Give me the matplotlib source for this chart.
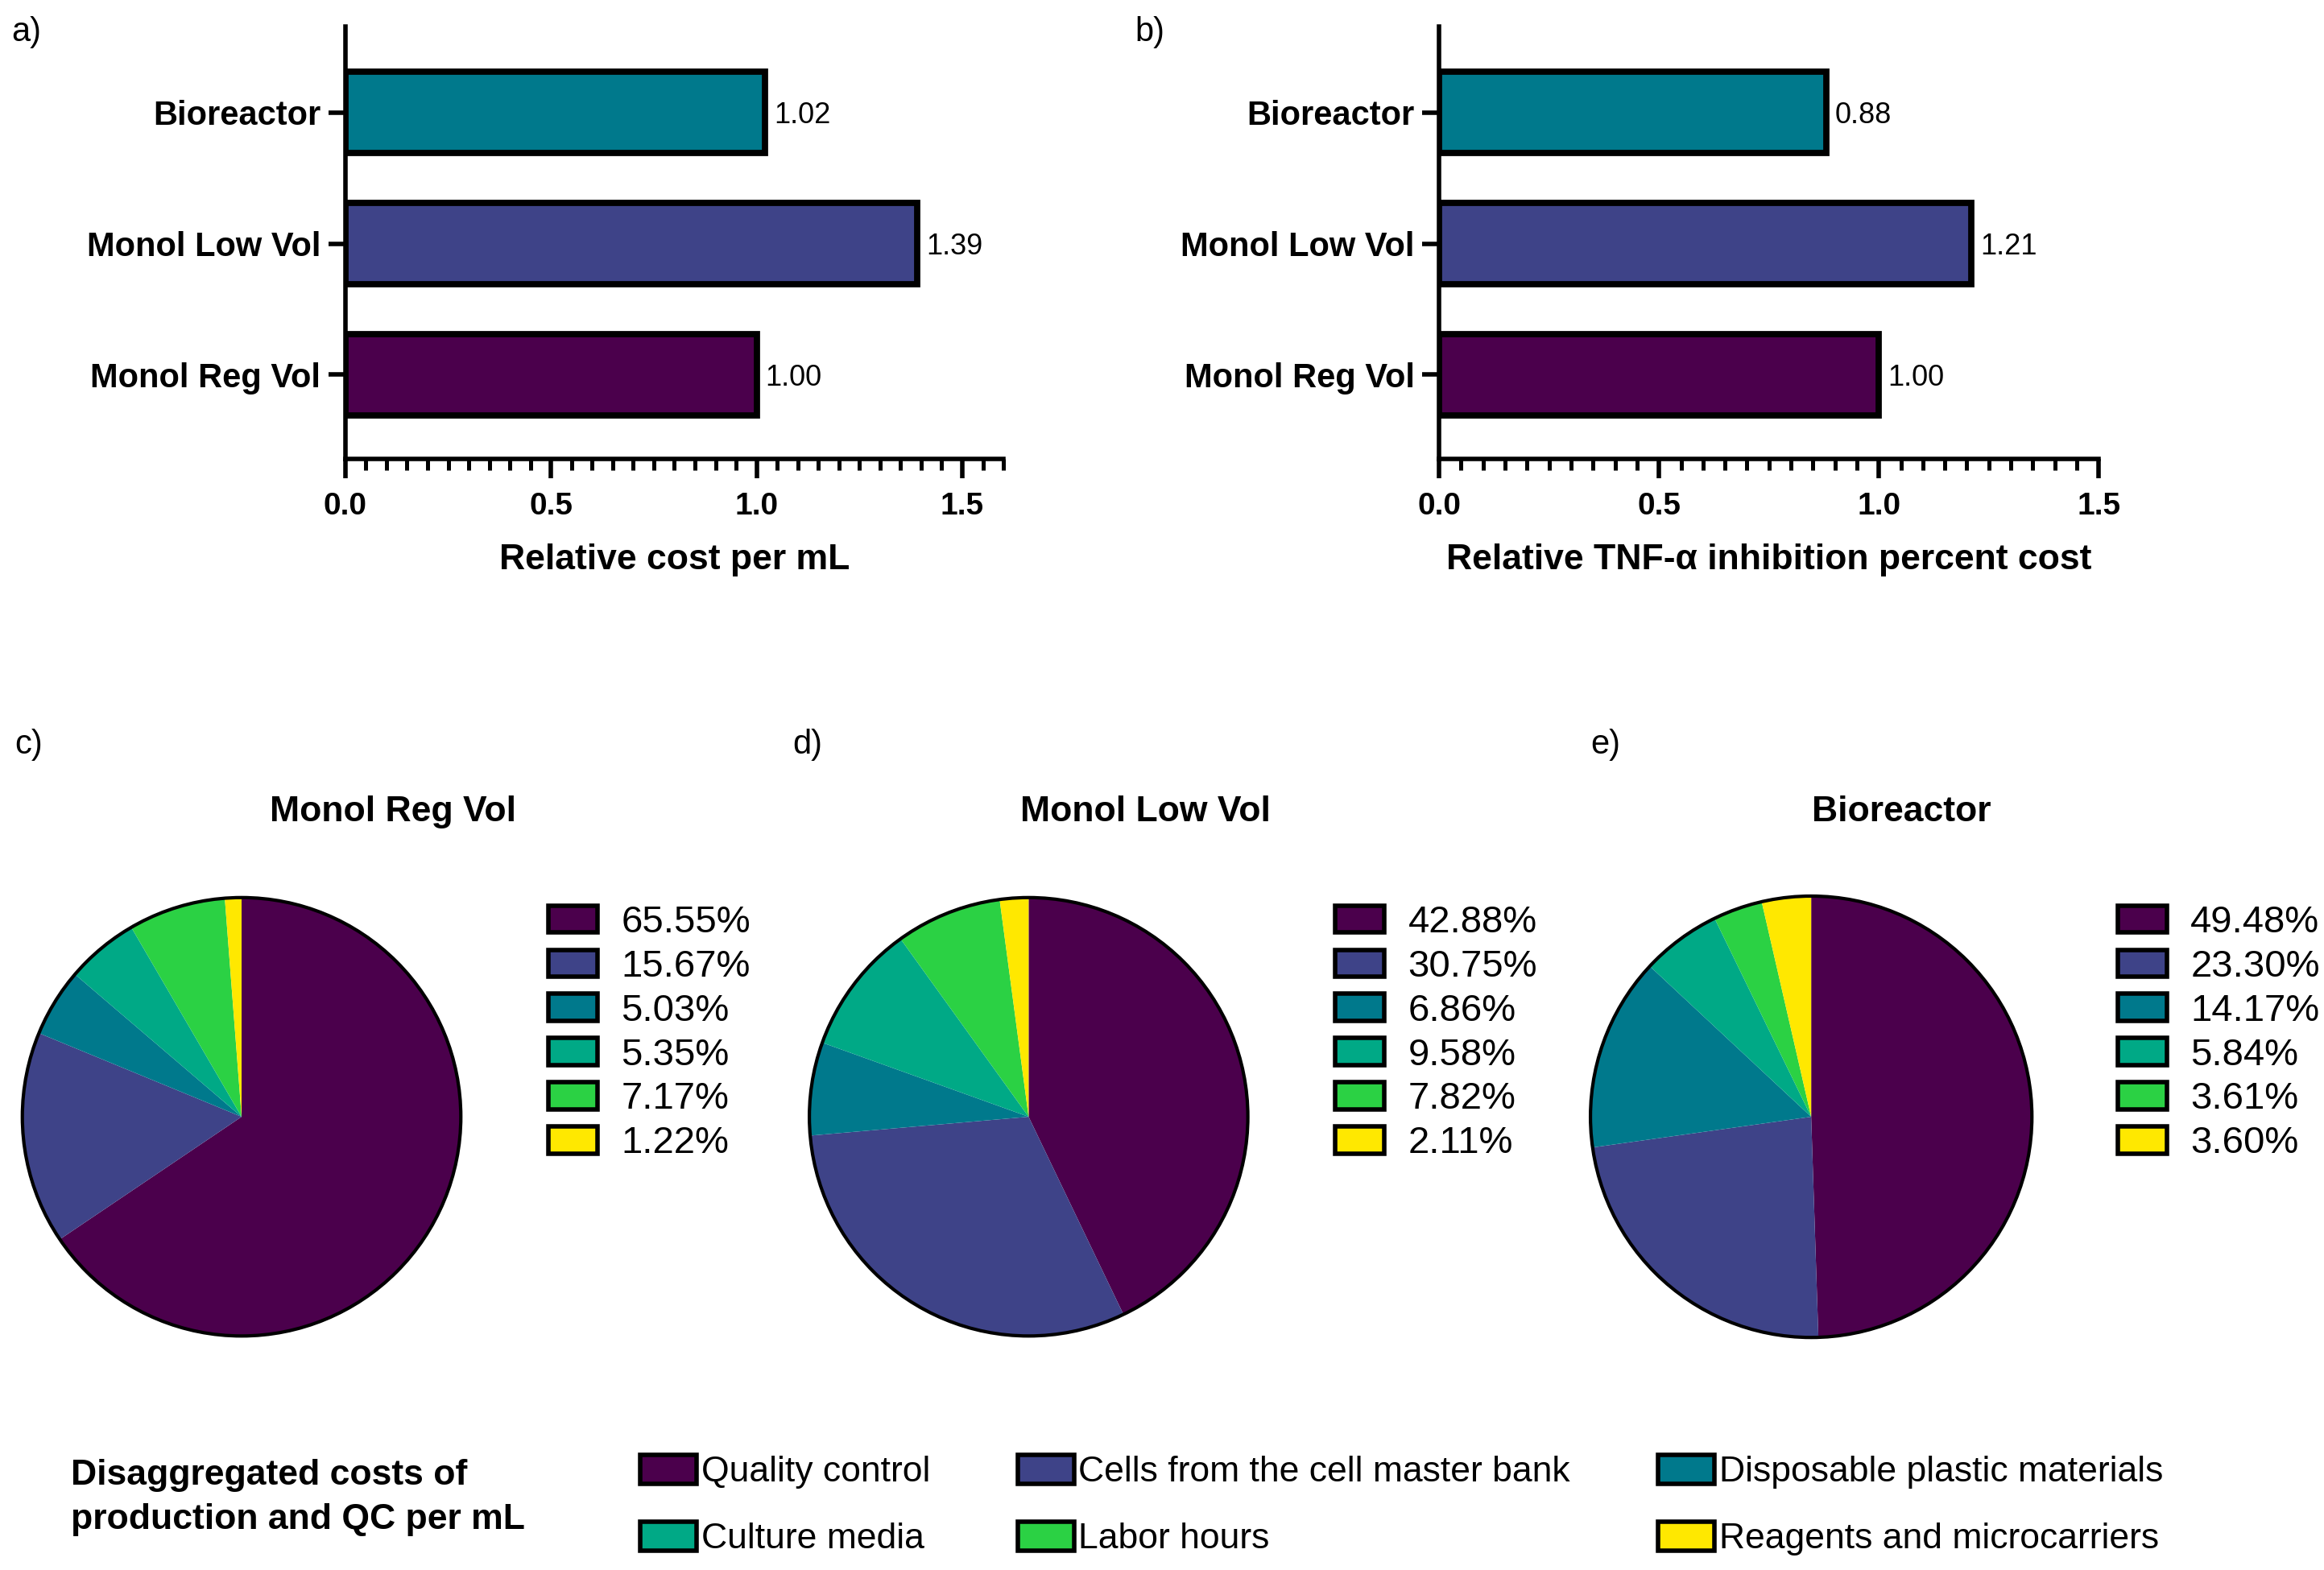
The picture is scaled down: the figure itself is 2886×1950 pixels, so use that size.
import matplotlib
matplotlib.use("Agg")
import matplotlib.pyplot as plt
from matplotlib.patches import Patch, Circle
from matplotlib.ticker import MultipleLocator

plt.rcParams['font.family'] = ['Liberation Sans', 'DejaVu Sans']

# data
bar_cats = ['Monol Reg Vol', 'Monol Low Vol', 'Bioreactor']
cost_per_ml = [1.00, 1.39, 1.02]
tnf_cost = [1.00, 1.21, 0.88]

cost_items = ['Quality control', 'Cells from the cell master bank', 'Disposable plastic materials',
              'Culture media', 'Labor hours', 'Reagents and microcarriers']
pie_reg = [65.55, 15.67, 5.03, 5.35, 7.17, 1.22]
pie_low = [42.88, 30.75, 6.86, 9.58, 7.82, 2.11]
pie_bio = [49.48, 23.30, 14.17, 5.84, 3.61, 3.60]

colors = ['#4B004C', '#3E4388', '#00798C', '#00A986', '#2BD144', '#FFE800']
bar_colors = [colors[0], colors[1], colors[2]]

# layout helpers: positions measured on a 1568x1060 copy of the reference
SW, SH = 1568.0, 1060.0
def fx(x):
    return x / SW
def fy(y):
    return 1 - y / SH

fig = plt.figure(figsize=(14.43, 9.75), dpi=200)


def bar_panel(left, right, xmax, vals, xlabel):
    ax = fig.add_axes([fx(left), fy(310), fx(right) - fx(left), fy(18) - fy(310)])
    bars = ax.barh(range(len(bar_cats)), vals, height=0.62, color=bar_colors,
                   edgecolor='black', linewidth=2.8)
    texts = ax.bar_label(bars, labels=['%.2f' % v for v in vals], padding=4, fontsize=13)
    for t in texts:
        t.set_va('center_baseline')
    ax.set_xlim(0, xmax)
    ax.set_ylim(-0.644, 2.655)
    ax.set_yticks(range(len(bar_cats)))
    ax.set_yticklabels(bar_cats, fontsize=15, fontweight='bold')
    ax.xaxis.set_major_locator(MultipleLocator(0.5))
    ax.xaxis.set_minor_locator(MultipleLocator(0.05))
    ax.set_xticks([0, 0.5, 1.0, 1.5])
    ax.set_xticklabels(['0.0', '0.5', '1.0', '1.5'], fontsize=14, fontweight='bold')
    ax.tick_params(axis='x', which='major', length=8.6, width=2, pad=6)
    ax.tick_params(axis='x', which='minor', length=5, width=1.8)
    ax.tick_params(axis='y', length=7.5, width=2, pad=3.5)
    for s in ['top', 'right']:
        ax.spines[s].set_visible(False)
    for s in ['left', 'bottom']:
        ax.spines[s].set_linewidth(2)
    ax.set_xlabel(xlabel, fontsize=16, fontweight='bold', labelpad=10)
    return ax

bar_panel(233, 677, 1.6, cost_per_ml, 'Relative cost per mL')
bar_panel(971, 1416, 1.5, tnf_cost, 'Relative TNF-\u03b1 inhibition percent cost')


def pie_panel(cx, cy, r, vals, title, tx):
    k = 1.06
    ax = fig.add_axes([fx(cx - r * k), fy(cy + r * k), 2 * r * k / SW, 2 * r * k / SH])
    ax.pie(vals, colors=colors, startangle=90, counterclock=False, radius=1,
           wedgeprops=dict(linewidth=0))
    ax.add_patch(Circle((0, 0), 1, fill=False, edgecolor='black', linewidth=1.5))
    ax.set_xlim(-k, k)
    ax.set_ylim(-k, k)
    ax.set_aspect('equal')
    ax.axis('off')
    fig.text(fx(tx), fy(548), title, fontsize=16, fontweight='bold', ha='center', va='center')
    handles = [Patch(facecolor=c, edgecolor='black', linewidth=2) for c in colors]
    fig.legend(handles, ['%.2f%%' % v for v in vals], loc='upper left',
               bbox_to_anchor=(fx(cx + 207), fy(611)), frameon=False, fontsize=17,
               handlelength=1.29, handleheight=0.72, handletextpad=0.62,
               labelspacing=0.23, borderpad=0, borderaxespad=0)

pie_panel(163, 754, 148, pie_reg, 'Monol Reg Vol', 265)
pie_panel(694, 754, 148, pie_low, 'Monol Low Vol', 773)
pie_panel(1222, 754, 149, pie_bio, 'Bioreactor', 1283)

# panel letters
for lab, x, y in [('a)', 8, 22), ('b)', 766, 22), ('c)', 10, 503), ('d)', 535, 503), ('e)', 1073, 503)]:
    fig.text(fx(x), fy(y), lab, fontsize=15, ha='left', va='center')

# shared legend at the bottom
fig.text(fx(48), fy(1011), 'Disaggregated costs of\nproduction and QC per mL', fontsize=16,
         fontweight='bold', ha='left', va='center', linespacing=1.42)
order = [0, 3, 1, 4, 2, 5]
leg_handles = [Patch(facecolor=colors[i], edgecolor='black', linewidth=2) for i in order]
fig.legend(leg_handles, [cost_items[i] for i in order], loc='upper left',
           bbox_to_anchor=(fx(432), fy(982)), ncol=3, frameon=False, fontsize=16,
           handlelength=1.58, handleheight=0.87, handletextpad=0.12,
           labelspacing=0.92, columnspacing=2.45, borderpad=0, borderaxespad=0)

fig.savefig('out.png', dpi=200)
